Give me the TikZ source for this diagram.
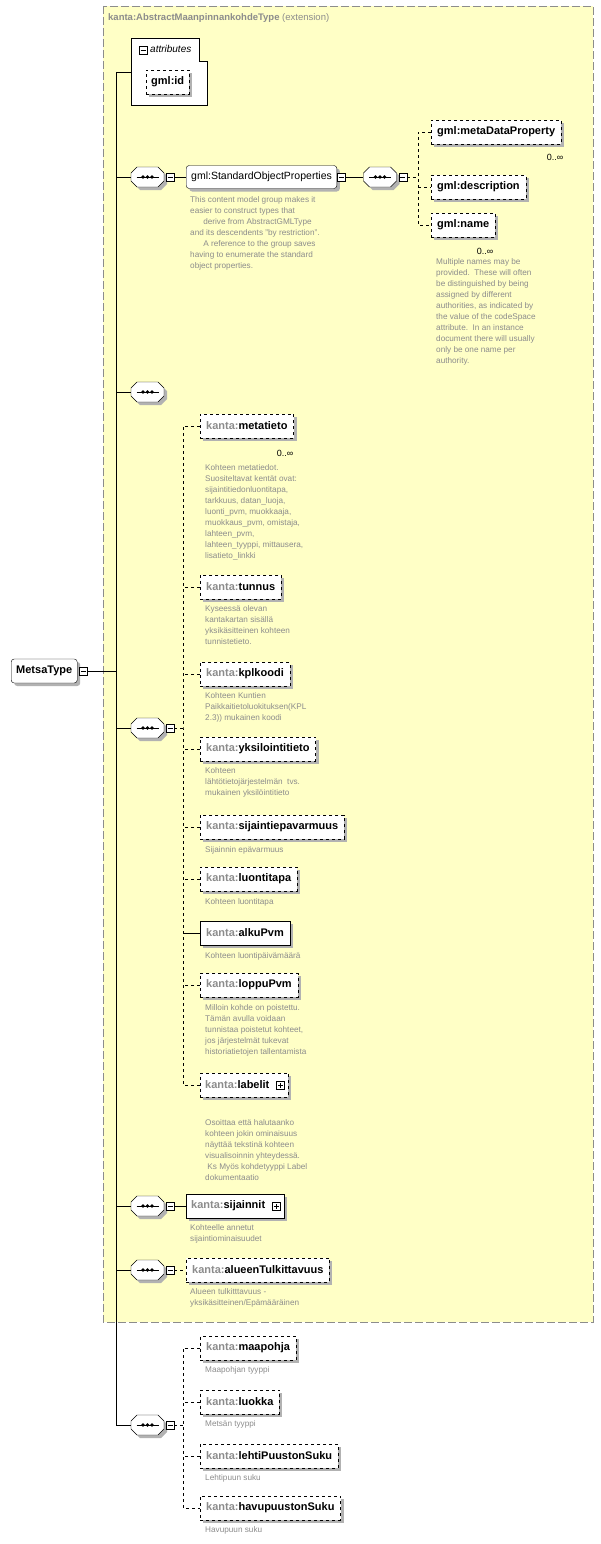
\documentclass[tikz,border=0pt]{standalone}
\usepackage{fontspec}
\setmainfont{Liberation Sans}
\usetikzlibrary{shadows,positioning}
\definecolor{paleyellow}{HTML}{FFFFC6}
\definecolor{docgray}{HTML}{8C8C8C}
\tikzset{
  shade box/.style = {drop shadow={shadow xshift=3pt, shadow yshift=-3pt, fill=black!30, opacity=1}},
  elem/.style      = {draw, dashed, fill=white, shade box, minimum height=24pt, inner xsep=6pt, inner ysep=0pt, font=\bfseries\fontsize{11}{13}\selectfont},
  solidelem/.style = {elem, solid},
  grp/.style       = {draw, rounded corners=3pt, fill=white, shade box, minimum height=23pt, inner xsep=5pt, font=\fontsize{10.5}{12}\selectfont},
  seqbox/.style    = {minimum width=33pt, minimum height=20pt, inner sep=0pt},
  markbox/.style   = {draw, solid, fill=white, minimum size=8pt, inner sep=0pt},
  doc/.style       = {anchor=north west, align=left, text=docgray, inner sep=0pt, font=\fontsize{8.2}{11}\selectfont},
  card/.style      = {inner sep=0pt, font=\fontsize{9}{10}\selectfont},
  link/.style      = {semithick},
  dlink/.style     = {semithick, dashed}
}
\newcommand\kn[1]{\textcolor{docgray}{kanta:}#1}
\newcommand\minusmark[1]{\draw ([xshift=-2.5pt]#1.center) -- ([xshift=2.5pt]#1.center);}
\newcommand\plusmark[1]{\draw ([xshift=-2.5pt]#1.center) -- ([xshift=2.5pt]#1.center) ([yshift=-2.5pt]#1.center) -- ([yshift=2.5pt]#1.center);}
\newcommand\octpath[2]{(#1-16.5,#2-4) -- (#1-10.5,#2-10) -- (#1+10.5,#2-10) -- (#1+16.5,#2-4) -- (#1+16.5,#2+4) -- (#1+10.5,#2+10) -- (#1-10.5,#2+10) -- (#1-16.5,#2+4) -- cycle}
\newcommand\seqat[3]{%
  \fill[black!30] \octpath{#2+3}{#3+3};
  \draw[fill=white] \octpath{#2}{#3};
  \node[seqbox] (#1) at (#2,#3) {};
  \draw[thick] ([xshift=-11pt]#1.center) -- ([xshift=11pt]#1.center);
  \fill (#1.center) circle (1.8pt) ([xshift=-4.5pt]#1.center) circle (1.8pt) ([xshift=4.5pt]#1.center) circle (1.8pt);
}
\newcommand\seqminus[1]{%
  \node[markbox] (#1m) at ([xshift=6pt]#1.east) {};
  \minusmark{#1m}
}
\begin{document}
\begin{tikzpicture}[x=1pt, y=-1pt]
  \useasboundingbox (0,0) rectangle (601,1544);
  % extension frame
  \draw[docgray, dash pattern=on 8pt off 3pt, fill=paleyellow] (103,6) rectangle (593,1322);
  \node[anchor=west, inner sep=0pt, font=\fontsize{9.5}{11}\selectfont, text=docgray] (ext) at (108,18)
    {\textbf{kanta:AbstractMaanpinnankohdeType} (extension)};

  % root
  \node[draw, rounded corners=3pt, fill=white, shade box, minimum height=24pt, inner xsep=5pt, font=\bfseries\fontsize{11}{13}\selectfont, anchor=west] (MetsaType) at (11,671) {MetsaType};
  \node[markbox] (rootm) at ([xshift=6pt]MetsaType.east) {};
  \minusmark{rootm}
  \coordinate (ttop) at (116,72);
  \coordinate (tmid) at (116,671);
  \coordinate (tbot) at (116,1425);
  \draw[link] (rootm.east) -- (tmid);
  \draw[link] (ttop) -- (tbot);

  % attributes
  \draw[fill=white] (131,38) -- (199,38) -- (199,61) -- (207,61) -- (207,105) -- (131,105) -- cycle;
  \node[markbox] (attrm) at (143,50) {};
  \minusmark{attrm}
  \node[anchor=west, inner sep=0pt, font=\itshape\fontsize{10}{11}\selectfont] (attr) at (150,49) {attributes};
  \node[elem, anchor=west, minimum height=24pt, inner xsep=5pt] (gmlid) at (146,82) {gml:id};
  \coordinate (attrw) at (131,72);
  \draw[link] (ttop) -- (attrw);

  % StandardObjectProperties
  \seqat{seqA}{147.5}{177}
  \seqminus{seqA}
  \draw[link] (116,177) -- (seqA.west);
  \node[grp, anchor=west] (sop) at (186,177) {gml:StandardObjectProperties};
  \draw[link] (seqAm.east) -- (sop.west);
  \node[markbox] (sopm) at ([xshift=4pt]sop.east) {};
  \minusmark{sopm}
  \seqat{seqB}{380}{177}
  \seqminus{seqB}
  \draw[link] (sopm.east) -- (seqB.west);
  \node[elem, anchor=west] (mdp) at (431,132) {gml:metaDataProperty};
  \node[elem, anchor=west] (descr) at (431,187) {gml:description};
  \node[elem, anchor=west] (gname) at (431,225) {gml:name};
  \draw[dlink] (seqBm.east) -- (418,177);
  \draw[dlink] (mdp.west) -| (418,177) |- (gname.west);
  \draw[dlink] (418,187) -- (descr.west);
  \node[card] (mdpc) at (555,157) {0..∞};
  \node[card] (gnamec) at (485,251) {0..∞};
  \node[doc] (sopdoc) at (190,196) {This content model group makes it\\easier to construct types that\\\hspace{1.6em}derive from AbstractGMLType\\and its descendents "by restriction".\\\hspace{1.6em}A reference to the group saves\\having to enumerate the standard\\object properties.};
  \node[doc] (namedoc) at (436,258) {Multiple names may be\\provided.\ \ These will often\\be distinguished by being\\assigned by different\\authorities, as indicated by\\the value of the codeSpace\\attribute.\ \ In an instance\\document there will usually\\only be one name per\\authority.};

  % empty sequence
  \seqat{seqC}{147.5}{392}
  \draw[link] (116,392) -- (seqC.west);

  % main sequence
  \seqat{seqD}{147.5}{728}
  \seqminus{seqD}
  \draw[link] (116,728) -- (seqD.west);
  \node[elem, anchor=west] (metatieto) at (200,426) {\kn{metatieto}};
  \node[elem, anchor=west] (tunnus) at (200,587) {\kn{tunnus}};
  \node[elem, anchor=west] (kplkoodi) at (200,674) {\kn{kplkoodi}};
  \node[elem, anchor=west] (yksilointitieto) at (200,749) {\kn{yksilointitieto}};
  \node[elem, anchor=west] (sijaintiepavarmuus) at (200,827) {\kn{sijaintiepavarmuus}};
  \node[elem, anchor=west] (luontitapa) at (200,879) {\kn{luontitapa}};
  \node[solidelem, anchor=west] (alkuPvm) at (200,933) {\kn{alkuPvm}};
  \node[elem, anchor=west] (loppuPvm) at (200,985) {\kn{loppuPvm}};
  \node[elem, anchor=west, inner xsep=5pt] (labelit) at (200,1085) {\kn{labelit}\kern14pt};
  \node[markbox] (labelitp) at ([xshift=-8pt]labelit.east) {};
  \plusmark{labelitp}
  \draw[dlink] (seqDm.east) -- (183,728);
  \draw[dlink] (metatieto.west) -| (183,728) |- (labelit.west);
  \foreach \el in {tunnus,kplkoodi,yksilointitieto,sijaintiepavarmuus,luontitapa,loppuPvm}
    \draw[dlink] (\el.west) -- (\el.west -| 183,0);
  \draw[link] (alkuPvm.west) -- (alkuPvm.west -| 183,0);
  \node[card] (metatietoc) at (285,453) {0..∞};
  \node[doc] (metatietodoc) at (205,464) {Kohteen metatiedot.\\Suositeltavat kentät ovat:\\sijaintitiedonluontitapa,\\tarkkuus, datan\_luoja,\\luonti\_pvm, muokkaaja,\\muokkaus\_pvm, omistaja,\\lahteen\_pvm,\\lahteen\_tyyppi, mittausera,\\lisatieto\_linkki};
  \node[doc] (tunnusdoc) at (205,605) {Kyseessä olevan\\kantakartan sisällä\\yksikäsitteinen kohteen\\tunnistetieto.};
  \node[doc] (kplkoodidoc) at (205,692) {Kohteen Kuntien\\Paikkaitietoluokituksen(KPL\\2.3)) mukainen koodi};
  \node[doc] (yksilointitietodoc) at (205,767) {Kohteen\\lähtötietojärjestelmän\ \ tvs.\\mukainen yksilöintitieto};
  \node[doc] (sijaintiepavarmuusdoc) at (205,846) {Sijainnin epävarmuus};
  \node[doc] (luontitapadoc) at (205,898) {Kohteen luontitapa};
  \node[doc] (alkuPvmdoc) at (205,952) {Kohteen luontipäivämäärä};
  \node[doc] (loppuPvmdoc) at (205,1004) {Milloin kohde on poistettu.\\Tämän avulla voidaan\\tunnistaa poistetut kohteet,\\jos järjestelmät tukevat\\historiatietojen tallentamista};
  \node[doc] (labelitdoc) at (205,1119) {Osoittaa että halutaanko\\kohteen jokin ominaisuus\\näyttää tekstinä kohteen\\visualisoinnin yhteydessä.\\\ Ks Myös kohdetyyppi Label\\dokumentaatio};

  % sijainnit
  \seqat{seqE}{147.5}{1206}
  \seqminus{seqE}
  \draw[link] (116,1206) -- (seqE.west);
  \node[solidelem, anchor=west, inner xsep=5pt] (sijainnit) at (186,1206) {\kn{sijainnit}\kern14pt};
  \node[markbox] (sijainnitp) at ([xshift=-8pt]sijainnit.east) {};
  \plusmark{sijainnitp}
  \draw[link] (seqEm.east) -- (sijainnit.west);
  \node[doc] (sijainnitdoc) at (190,1224) {Kohteelle annetut\\sijaintiominaisuudet};

  % alueenTulkittavuus
  \seqat{seqF}{147.5}{1270}
  \seqminus{seqF}
  \draw[link] (116,1270) -- (seqF.west);
  \node[elem, anchor=west] (alueenTulkittavuus) at (186,1270) {\kn{alueenTulkittavuus}};
  \draw[dlink] (seqFm.east) -- (alueenTulkittavuus.west);
  \node[doc] (alueendoc) at (190,1288) {Alueen tulkitttavuus -\\yksikäsitteinen/Epämääräinen};

  % bottom sequence
  \seqat{seqG}{147.5}{1425}
  \seqminus{seqG}
  \draw[link] (tbot) -- (seqG.west);
  \node[elem, anchor=west] (maapohja) at (200,1348) {\kn{maapohja}};
  \node[elem, anchor=west] (luokka) at (200,1402) {\kn{luokka}};
  \node[elem, anchor=west] (lehtiPuustonSuku) at (200,1456) {\kn{lehtiPuustonSuku}};
  \node[elem, anchor=west] (havupuustonSuku) at (200,1508) {\kn{havupuustonSuku}};
  \draw[dlink] (seqGm.east) -- (183,1425);
  \draw[dlink] (maapohja.west) -| (183,1425) |- (havupuustonSuku.west);
  \draw[dlink] (luokka.west) -- (183,1402);
  \draw[dlink] (lehtiPuustonSuku.west) -- (183,1456);
  \node[doc] (maapohjadoc) at (205,1366) {Maapohjan tyyppi};
  \node[doc] (luokkadoc) at (205,1420) {Metsän tyyppi};
  \node[doc] (lehtidoc) at (205,1474) {Lehtipuun suku};
  \node[doc] (havudoc) at (205,1526) {Havupuun suku};
\end{tikzpicture}
\end{document}
